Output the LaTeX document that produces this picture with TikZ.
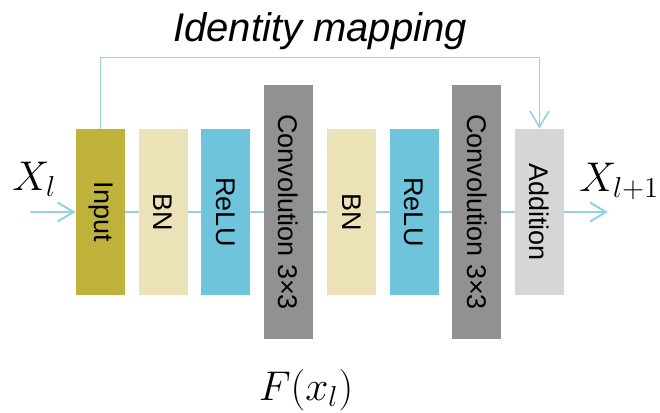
\documentclass[tikz,border=0pt]{standalone}
\usepackage{fontspec}
\setmainfont{Liberation Sans}
\usetikzlibrary{arrows.meta}
\definecolor{inputc}{RGB}{191,178,58}
\definecolor{bnc}{RGB}{235,226,183}
\definecolor{reluc}{RGB}{109,196,219}
\definecolor{convc}{RGB}{145,145,145}
\definecolor{addc}{RGB}{214,214,214}
\definecolor{flowc}{RGB}{150,208,230}
\begin{document}
\begin{tikzpicture}[x=0.5pt, y=-0.5pt, line join=round, line cap=round, >={Straight Barb[length=8pt,width=9.5pt]}]
	\useasboundingbox (0,0) rectangle (660,413);
	\tikzset{
		blk/.style={inner sep=0pt, minimum width=24.5pt, minimum height=83pt, font=\fontsize{13.5}{16}\selectfont},
		tall/.style={blk, minimum height=127pt},
		flow/.style={draw=flowc, line width=0.8pt},
		big/.style={font=\fontsize{20}{24}\selectfont}
	}
	% blocks
	\foreach \n/\x/\c/\s/\t in {inp/100.5/inputc/blk/Input, bna/163.2/bnc/blk/BN, rla/225.9/reluc/blk/ReLU, cva/288.6/convc/tall/Convolution 3×3, bnb/351.3/bnc/blk/BN, rlb/414/reluc/blk/ReLU, cvb/476.7/convc/tall/Convolution 3×3, add/539.4/addc/blk/Addition}
	\node[\s, fill=\c] (\n) at (\x,212) {\rotatebox{-90}{\t}};
	% main path
	\coordinate (xin) at (31,212);
	\coordinate (xout) at (608,212);
	\draw[flow, ->, line width=1pt] (xin) -- (inp);
	\draw[flow] (inp) -- (bna) (bna) -- (rla) (rla) -- (cva) (cva) -- (bnb) (bnb) -- (rlb) (rlb) -- (cvb) (cvb) -- (add);
	\draw[flow, ->, line width=1pt] (add) -- (xout);
	% shortcut
	\draw[flow, ->] (inp.north) -- ++(0,-71) -| (add.north);
	% labels
	\node[big, anchor=base] (idm) at (320,41) {\itshape Identity mapping};
	\node[big, anchor=base west, inner sep=0pt] (xl) at (12,190) {$X_l$};
	\node[big, anchor=base west, inner sep=0pt] (xl1) at (579,191) {$X_{l+1}$};
	\node[big, anchor=base, inner sep=0pt] (fx) at (306,400) {$F(x_l)$};
\end{tikzpicture}
\end{document}
